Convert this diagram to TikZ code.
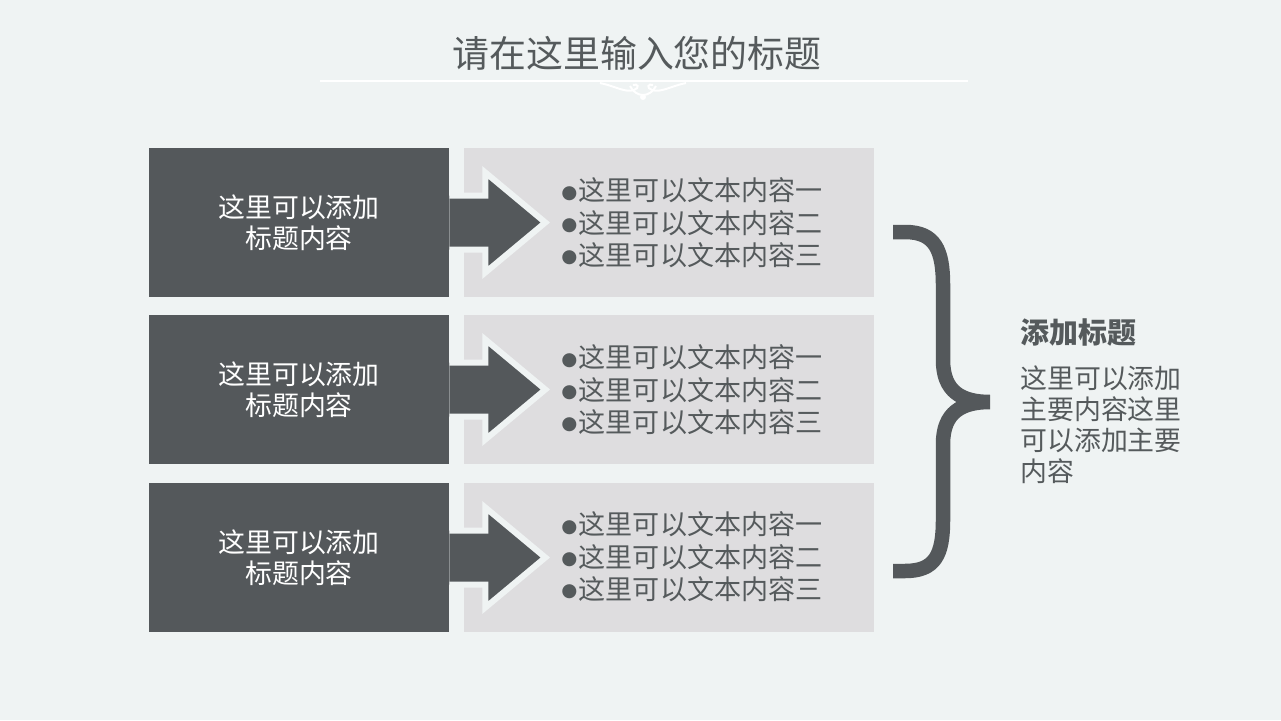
\documentclass[tikz,border=0pt]{standalone}
\usepackage{fontspec}
\setmainfont{Noto Sans CJK SC}
\newfontfamily\dejavu{DejaVu Sans}
\usetikzlibrary{positioning}
\definecolor{bgc}{RGB}{239,243,243}
\definecolor{darkc}{RGB}{84,88,91}
\definecolor{lightc}{RGB}{222,221,223}
\definecolor{textc}{RGB}{85,90,92}
\newcommand{\bul}{\raisebox{1.6pt}{\dejavu\fontsize{10.5}{10.5}\selectfont ●}\hspace{0.8pt}}
\tikzset{
    tbox/.style={fill=darkc,text=white,minimum width=6cm,minimum height=2.98cm,inner sep=0pt,
        align=center,font=\fontsize{15.3}{17.6}\selectfont},
    cbox/.style={fill=lightc,minimum width=8.2cm,minimum height=2.98cm,inner sep=0pt},
    items/.style={text=textc,align=left,inner sep=0pt,anchor=west,font=\fontsize{15.4}{18.4}\selectfont},
    harrow/.style={fill=darkc,draw=bgc,line width=0.12cm,line join=miter},
    brace/.style={draw=darkc,line width=0.29cm,line join=bevel},
    orn/.style={draw=white,line width=0.04cm},
}
\begin{document}
\begin{tikzpicture}[x=0.02cm,y=-0.02cm]
\fill[bgc] (0,0) rectangle (1281,720);
\node[text=textc,font=\fontsize{21}{24}\selectfont] (title) at (637,53) {请在这里输入您的标题};
\coordinate (la) at (320,81);
\coordinate (lb) at (968,81);
\draw[white,line width=0.04cm] (la) -- (lb);
\draw[orn] (600,83) .. controls (615,86) and (625,93) .. (634,90) .. controls (640,88) and (638,83) .. (633,85);
\draw[orn] (686,83) .. controls (671,86) and (661,93) .. (652,90) .. controls (646,88) and (648,83) .. (653,85);
\draw[orn] (630,86) .. controls (636,98) and (650,98) .. (656,86);
\fill[white] (643,97) circle (3);

\node[cbox] (c1) at (669,222.5) {};
\node[cbox] (c2) at (669,389.5) {};
\node[cbox] (c3) at (669,557.5) {};
\node[tbox] (t1) at (299,222.5) {这里可以添加\\标题内容};
\node[tbox] (t2) at (299,389.5) {这里可以添加\\标题内容};
\node[tbox] (t3) at (299,557.5) {这里可以添加\\标题内容};
\path[harrow] (t1.east) ++(0,-27) -- ++(36,0) -- ++(0,-23) -- ++(60,50) -- ++(-60,50) -- ++(0,-23) -- ++(-36,0);
\path[harrow] (t2.east) ++(0,-27) -- ++(36,0) -- ++(0,-23) -- ++(60,50) -- ++(-60,50) -- ++(0,-23) -- ++(-36,0);
\path[harrow] (t3.east) ++(0,-27) -- ++(36,0) -- ++(0,-23) -- ++(60,50) -- ++(-60,50) -- ++(0,-23) -- ++(-36,0);
\node[items] (i1) at (561,223) {\bul 这里可以文本内容一\\\bul 这里可以文本内容二\\\bul 这里可以文本内容三};
\node[items] (i2) at (561,390) {\bul 这里可以文本内容一\\\bul 这里可以文本内容二\\\bul 这里可以文本内容三};
\node[items] (i3) at (561,557) {\bul 这里可以文本内容一\\\bul 这里可以文本内容二\\\bul 这里可以文本内容三};

\coordinate (tip) at (990,402);
\draw[brace] (893,232) -- (905,232) .. controls (935,232) and (943,250) .. (943,285) -- (943,360)
    .. controls (943,392) and (962,402) .. (tip)
    .. controls (962,402) and (943,412) .. (943,444) -- (943,520)
    .. controls (943,555) and (935,571) .. (905,571) -- (893,571);
\node[text=textc,anchor=west,inner sep=0pt,font=\fontsize{16.5}{19}\selectfont\bfseries] (head) at (1020,332) {添加标题};
\node[text=textc,anchor=west,inner sep=0pt,align=left,font=\fontsize{15.3}{17.6}\selectfont] (body) at (1020,425)
    {这里可以添加\\主要内容这里\\可以添加主要\\内容};
\end{tikzpicture}
\end{document}
